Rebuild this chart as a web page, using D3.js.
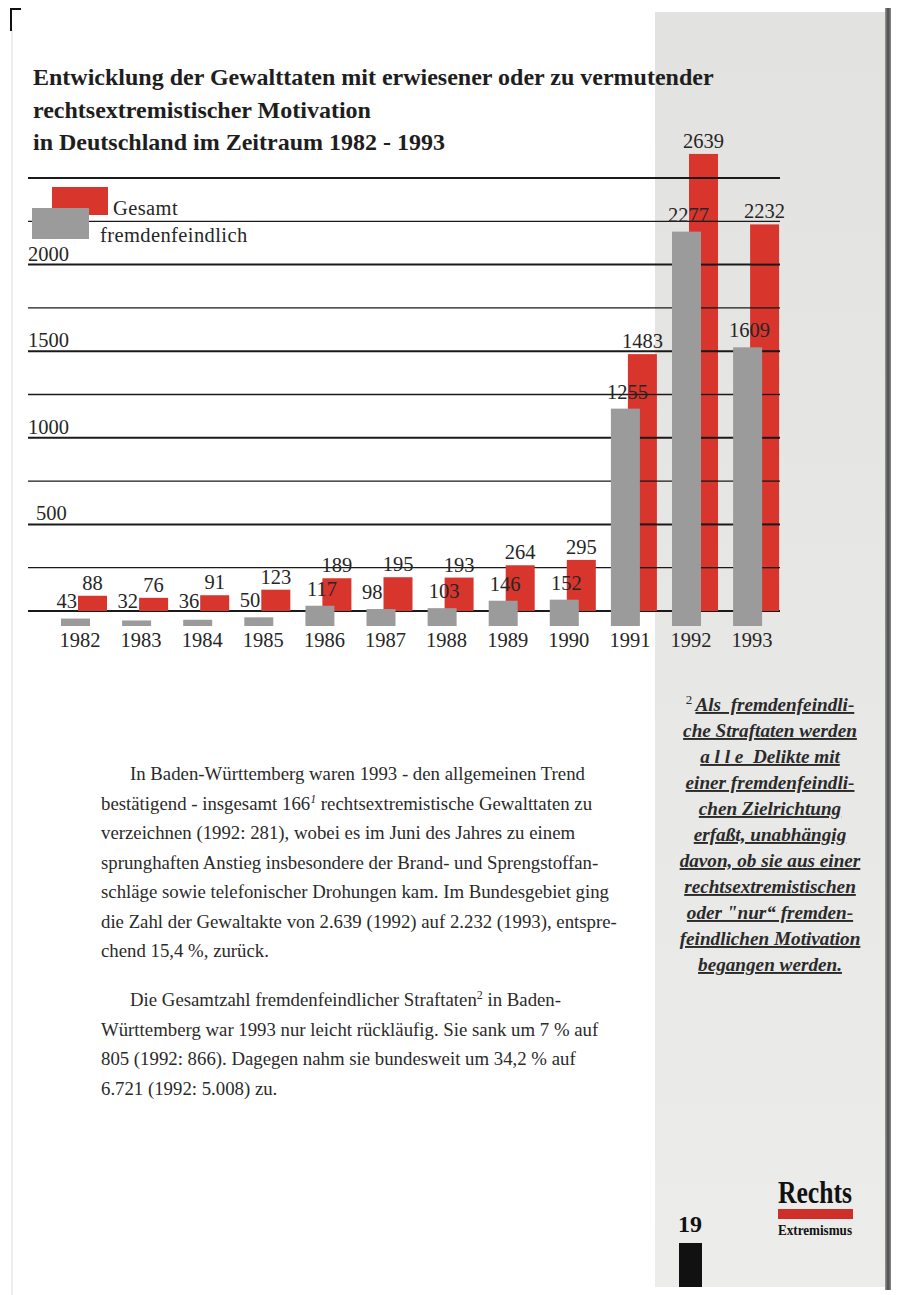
<!DOCTYPE html>
<html><head><meta charset="utf-8">
<script src="https://cdn.jsdelivr.net/npm/d3@7/dist/d3.min.js"></script>
<style>body{margin:0;background:#fff}svg{display:block}text{white-space:pre}</style>
</head><body><svg id="c" width="900" height="1295"></svg>
<script>
// ---- data ----
const years = [1982,1983,1984,1985,1986,1987,1988,1989,1990,1991,1992,1993];
const gesamt = [88,76,91,123,189,195,193,264,295,1483,2639,2232];
const fremdenfeindlich = [43,32,36,50,117,98,103,146,152,1255,2277,1609];
const seriesNames = ["Gesamt","fremdenfeindlich"];
const gridValues = [0,250,500,750,1000,1250,1500,1750,2000,2250,2500];
const tickValues = [500,1000,1500,2000];
const tickLabels = ["500","1000","1500","2000"];
const titleLines = [
  "Entwicklung der Gewalttaten mit erwiesener oder zu vermutender",
  "rechtsextremistischer Motivation",
  "in Deutschland im Zeitraum 1982 - 1993"
];
const para1 = [
  ["In Baden-Württemberg waren 1993 - den allgemeinen Trend"],
  ["bestätigend - insgesamt 166","1"," rechtsextremistische Gewalttaten zu"],
  ["verzeichnen (1992: 281), wobei es im Juni des Jahres zu einem"],
  ["sprunghaften Anstieg insbesondere der Brand- und Sprengstoffan-"],
  ["schläge sowie telefonischer Drohungen kam. Im Bundesgebiet ging"],
  ["die Zahl der Gewaltakte von 2.639 (1992) auf 2.232 (1993), entspre-"],
  ["chend 15,4 %, zurück."]
];
const para2 = [
  ["Die Gesamtzahl fremdenfeindlicher Straftaten","2"," in Baden-"],
  ["Württemberg war 1993 nur leicht rückläufig. Sie sank um 7 % auf"],
  ["805 (1992: 866). Dagegen nahm sie bundesweit um 34,2 % auf"],
  ["6.721 (1992: 5.008) zu."]
];
const footnoteLines = [
  "Als  fremdenfeindli-",
  "che Straftaten werden",
  "a l l e  Delikte mit",
  "einer fremdenfeindli-",
  "chen Zielrichtung",
  "erfaßt, unabhängig",
  "davon, ob sie aus einer",
  "rechtsextremistischen",
  "oder \"nur“ fremden-",
  "feindlichen Motivation",
  "begangen werden."
];

// ---- drawing ----
const svg = d3.select("#c");
const RED = "#d8352d", GRAY = "#9b9b9b", INK = "#262626";
const serif = "'Liberation Serif','Times New Roman',serif";

svg.append("rect").attr("width",900).attr("height",1295).attr("fill","#fff");
// page edge + corner mark
svg.append("line").attr("x1",12).attr("x2",12).attr("y1",30).attr("y2",1295).attr("stroke","#ededed").attr("stroke-width",2);
svg.append("path").attr("d","M11,31V9H21").attr("fill","none").attr("stroke","#111").attr("stroke-width",2);

// sidebar
const defs = svg.append("defs");
const g1 = defs.append("linearGradient").attr("id","sb").attr("x1",0).attr("x2",0).attr("y1",0).attr("y2",1);
g1.append("stop").attr("offset","0").attr("stop-color","#e2e2e0");
g1.append("stop").attr("offset","1").attr("stop-color","#ececea");
svg.append("rect").attr("x",655).attr("y",12).attr("width",231).attr("height",1275).attr("fill","url(#sb)");
const g2 = defs.append("linearGradient").attr("id","edge");
g2.append("stop").attr("offset","0").attr("stop-color","#9a9a9a");
g2.append("stop").attr("offset","0.5").attr("stop-color","#4a4a4a");
g2.append("stop").attr("offset","1").attr("stop-color","#8a8a8a");
svg.append("rect").attr("x",885).attr("y",8).attr("width",6).attr("height",1282).attr("fill","url(#edge)");

// title
svg.append("g").selectAll("text").data(titleLines).join("text")
  .attr("x",33).attr("y",(d,i)=>85+i*32.5)
  .attr("font-family",serif).attr("font-weight","bold").attr("font-size",24)
  .attr("fill","#1e1e1e").text(d=>d);

// scales
const x = d3.scaleBand().domain(years).range([61, 61+12*61.1]).padding(0);
const y = d3.scaleLinear().domain([0,2500]).range([611,178]);
const yG = d3.scaleLinear().domain([0,2500]).range([626,193]);
const barW = 29, redOff = 17;

// gridlines
const grid = svg.append("g");
grid.selectAll("line").data(gridValues).join("line")
  .attr("x1",28).attr("x2",780)
  .attr("y1",d=>y(d)).attr("y2",d=>y(d))
  .attr("stroke","#1a1a1a")
  .attr("stroke-width",d=>(d%500===0)?2:1.3);

// y labels
svg.append("g").selectAll("text").data(tickValues).join("text")
  .attr("x",(d,i)=>tickLabels[i].length<4?36:28).attr("y",d=>y(d)-4)
  .attr("font-family",serif).attr("font-size",20.5).attr("fill",INK)
  .text((d,i)=>tickLabels[i]);

// red bars (Gesamt)
svg.append("g").selectAll("rect").data(years).join("rect")
  .attr("x",d=>x(d)+redOff).attr("width",barW)
  .attr("y",(d,i)=>y(gesamt[i])).attr("height",(d,i)=>y(0)-y(gesamt[i]))
  .attr("fill",RED);

// gridlines visible across the tall red bars
const grid2 = svg.append("g");
grid2.selectAll("line").data(years.flatMap((yr,i)=>gridValues.filter(v=>v>0&&v<gesamt[i]&&gesamt[i]>1000).map(v=>({yr,v}))))
  .join("line")
  .attr("x1",d=>x(d.yr)+redOff).attr("x2",d=>x(d.yr)+redOff+barW)
  .attr("y1",d=>y(d.v)).attr("y2",d=>y(d.v))
  .attr("stroke","#1a1a1a").attr("stroke-width",d=>(d.v%500===0)?2:1.3);

// gray bars (fremdenfeindlich)
svg.append("g").selectAll("rect").data(years).join("rect")
  .attr("x",d=>x(d)).attr("width",barW)
  .attr("y",(d,i)=>yG(fremdenfeindlich[i])).attr("height",(d,i)=>yG(0)-yG(fremdenfeindlich[i]))
  .attr("fill",GRAY);

// legend
const lg = svg.append("g");
lg.append("rect").attr("x",52).attr("y",187).attr("width",56).attr("height",28).attr("fill",RED);
lg.append("rect").attr("x",32).attr("y",208).attr("width",57).attr("height",31).attr("fill",GRAY);
lg.selectAll("text").data(seriesNames).join("text")
  .attr("x",(d,i)=>i===0?113:100).attr("y",(d,i)=>i===0?215:242)
  .attr("font-family",serif).attr("font-size",20.5).attr("fill",INK).attr("letter-spacing",0.4)
  .text(d=>d);

// value labels
const lab = svg.append("g").attr("font-family",serif).attr("font-size",20.5).attr("fill",INK);
lab.selectAll("text.r").data(years).join("text").attr("class","r")
  .attr("x",d=>x(d)+redOff+barW/2).attr("y",(d,i)=>y(gesamt[i])-6)
  .attr("text-anchor","middle").text((d,i)=>gesamt[i]);
lab.selectAll("text.g").data(years).join("text").attr("class","g")
  .attr("x",(d,i)=>fremdenfeindlich[i]<100 ? x(d)+redOff-1 : x(d)+barW/2+2)
  .attr("y",(d,i)=>Math.min(608, yG(fremdenfeindlich[i])-10))
  .attr("text-anchor",(d,i)=>fremdenfeindlich[i]<100?"end":"middle")
  .text((d,i)=>fremdenfeindlich[i]);
// year labels
lab.selectAll("text.y").data(years).join("text").attr("class","y")
  .attr("x",d=>x(d)+19).attr("y",647).attr("text-anchor","middle").text(d=>d);

// body text
function para(lines, y0, step, italicSup){
  const t = svg.append("g").attr("font-family",serif).attr("font-size",18.8).attr("fill","#2a2a2a");
  lines.forEach((parts,i)=>{
    const tx = t.append("text").attr("x",i===0?130:101).attr("y",y0+i*step);
    parts.forEach((p,j)=>{
      if(j===1){
        tx.append("tspan").attr("font-size",12).attr("dy",-7)
          .attr("font-style",italicSup?"italic":"normal").text(p);
      } else if(j===2){
        tx.append("tspan").attr("dy",7).text(p);
      } else tx.append("tspan").text(p);
    });
  });
}
para(para1, 780, 29.5, true);
para(para2, 1006, 29.5, false);

// footnote in sidebar
const fn = svg.append("g").attr("font-family",serif).attr("font-size",19.2)
  .attr("font-weight","bold").attr("font-style","italic").attr("fill","#2a2a2a");
footnoteLines.forEach((l,i)=>{
  const t = fn.append("text").attr("x",770).attr("y",711+i*26).attr("text-anchor","middle");
  if(i===0){
    t.append("tspan").attr("font-size",13).attr("font-style","normal").attr("font-weight","normal").attr("dy",-7).text("2 ");
    t.append("tspan").attr("dy",7).attr("text-decoration","underline").text(l);
  } else {
    t.append("tspan").attr("text-decoration","underline").text(l);
  }
});

// page number + logo
svg.append("text").attr("x",678).attr("y",1232).attr("font-family",serif).attr("font-weight","bold")
  .attr("font-size",24).attr("fill","#111").text("19");
svg.append("rect").attr("x",679).attr("y",1243).attr("width",23).attr("height",44).attr("fill","#111");
svg.append("text").attr("x",778).attr("y",1203).attr("font-family",serif).attr("font-weight","bold")
  .attr("font-size",31).attr("textLength",74).attr("lengthAdjust","spacingAndGlyphs").attr("fill","#111").text("Rechts");
svg.append("rect").attr("x",778).attr("y",1209).attr("width",75).attr("height",10).attr("fill","#cf2f28");
svg.append("text").attr("x",778).attr("y",1235).attr("font-family",serif).attr("font-weight","bold")
  .attr("font-size",14).attr("textLength",74).attr("lengthAdjust","spacingAndGlyphs").attr("fill","#111").text("Extremismus");
</script></body></html>
